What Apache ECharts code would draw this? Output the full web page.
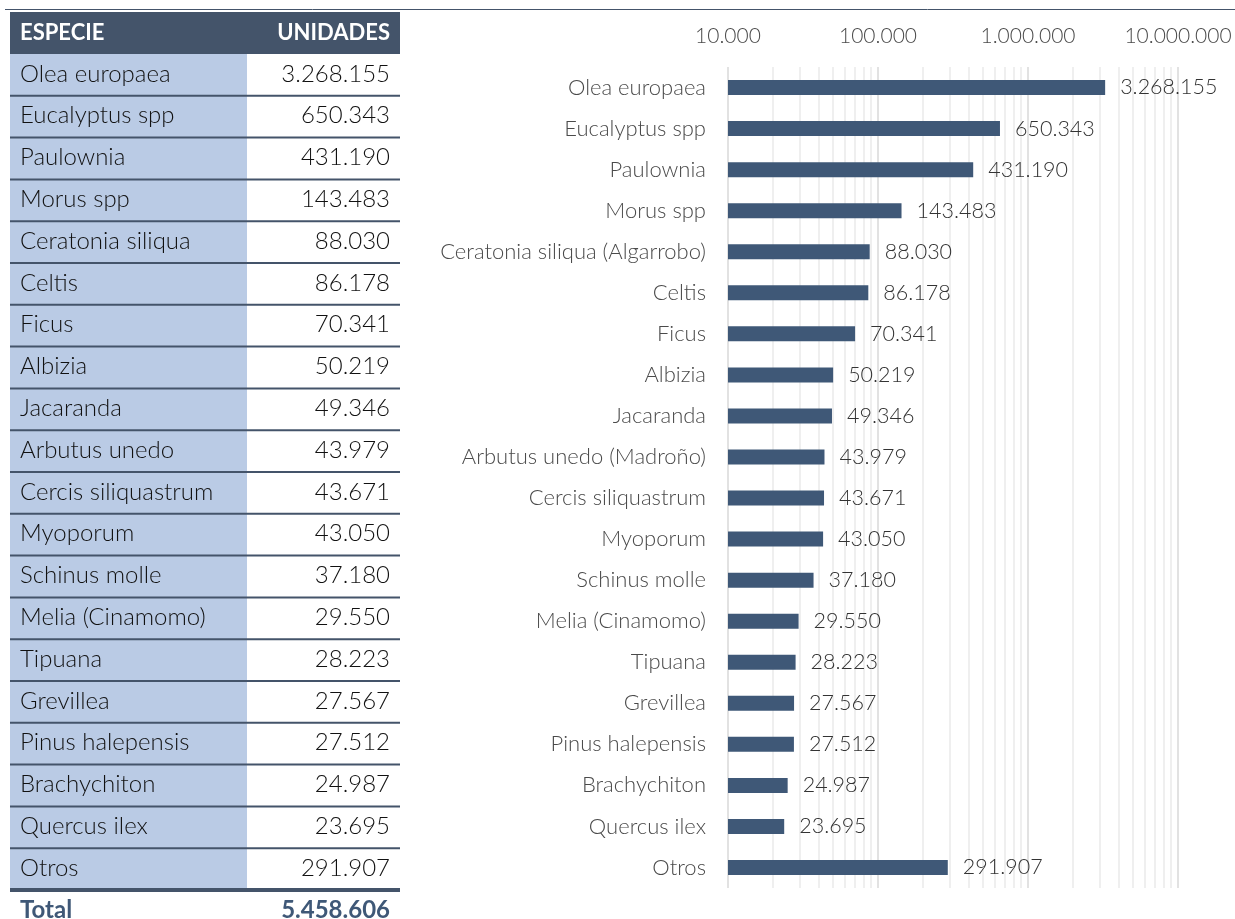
<!DOCTYPE html>
<html>
<head>
<meta charset="utf-8">
<script src="https://cdn.jsdelivr.net/npm/echarts@6/dist/echarts.min.js"></script>
<style>
  html, body { margin: 0; padding: 0; background: #fff; }
  #main { width: 1235px; height: 919px; }
</style>
</head>
<body>
<div id="main"></div>
<script>
// datos de la tabla y del gráfico
var tableNames = ['Olea europaea', 'Eucalyptus spp', 'Paulownia', 'Morus spp', 'Ceratonia siliqua',
  'Celtis', 'Ficus', 'Albizia', 'Jacaranda', 'Arbutus unedo', 'Cercis siliquastrum', 'Myoporum',
  'Schinus molle', 'Melia (Cinamomo)', 'Tipuana', 'Grevillea', 'Pinus halepensis', 'Brachychiton',
  'Quercus ilex', 'Otros'];
var chartNames = ['Olea europaea', 'Eucalyptus spp', 'Paulownia', 'Morus spp', 'Ceratonia siliqua (Algarrobo)',
  'Celtis', 'Ficus', 'Albizia', 'Jacaranda', 'Arbutus unedo (Madroño)', 'Cercis siliquastrum', 'Myoporum',
  'Schinus molle', 'Melia (Cinamomo)', 'Tipuana', 'Grevillea', 'Pinus halepensis', 'Brachychiton',
  'Quercus ilex', 'Otros'];
var unidades = [3268155, 650343, 431190, 143483, 88030, 86178, 70341, 50219, 49346, 43979,
  43671, 43050, 37180, 29550, 28223, 27567, 27512, 24987, 23695, 291907];
var total = 5458606;
var minorTicks = [20000, 30000, 40000, 50000, 60000, 70000, 80000, 90000,
  200000, 300000, 400000, 500000, 600000, 700000, 800000, 900000,
  2000000, 3000000, 4000000, 5000000, 6000000, 7000000, 8000000, 9000000];

var azul = '#44546A';
var barra = '#3F5877';
var celeste = '#BACBE5';
var fuente = 'Lato';

function fmt(v) {
  return String(Math.round(v)).replace(/\B(?=(\d{3})+(?!\d))/g, '.');
}

// tabla a la izquierda
var g = [];
var x0 = 10, x1 = 247, x2 = 400, top0 = 12, headH = 42, rowH = 41.8;
g.push({ type: 'line', shape: { x1: 5, y1: 9.5, x2: 1235, y2: 9.5 }, style: { stroke: azul, lineWidth: 1 } });
g.push({ type: 'rect', shape: { x: x0, y: top0, width: x2 - x0, height: headH }, style: { fill: azul } });
g.push({ type: 'text', x: 20, y: top0 + headH / 2, style: { text: 'ESPECIE', fill: '#fff', font: 'bold 22px ' + fuente, verticalAlign: 'middle' } });
g.push({ type: 'text', x: 390, y: top0 + headH / 2, style: { text: 'UNIDADES', fill: '#fff', font: 'bold 22px ' + fuente, align: 'right', verticalAlign: 'middle' } });
var y0 = top0 + headH;
g.push({ type: 'rect', shape: { x: x0, y: y0, width: x1 - x0, height: rowH * tableNames.length }, style: { fill: celeste } });
tableNames.forEach(function (n, i) {
  var yc = y0 + rowH * i + rowH / 2 - 1;
  g.push({ type: 'text', x: 20, y: yc, style: { text: n, fill: '#111', font: '300 24px ' + fuente, verticalAlign: 'middle' } });
  g.push({ type: 'text', x: 390, y: yc, style: { text: fmt(unidades[i]), fill: '#111', font: '300 24px ' + fuente, align: 'right', verticalAlign: 'middle' } });
  var yl = y0 + rowH * (i + 1);
  if (i < tableNames.length - 1) {
    g.push({ type: 'line', shape: { x1: x0, y1: yl, x2: x2, y2: yl }, style: { stroke: azul, lineWidth: 2 } });
  } else {
    g.push({ type: 'line', shape: { x1: x0, y1: yl, x2: x2, y2: yl }, style: { stroke: azul, lineWidth: 4 } });
  }
});
var yt = y0 + rowH * tableNames.length + 20;
g.push({ type: 'text', x: 20, y: yt, style: { text: 'Total', fill: barra, font: 'bold 24px ' + fuente, verticalAlign: 'middle' } });
g.push({ type: 'text', x: 390, y: yt, style: { text: fmt(total), fill: barra, font: 'bold 24px ' + fuente, align: 'right', verticalAlign: 'middle' } });

var myChart = echarts.init(document.getElementById('main'));
var option = {
  animation: false,
  textStyle: { fontFamily: fuente },
  graphic: g,
  grid: { left: 728, right: 57, top: 67, bottom: 31, containLabel: false },
  xAxis: {
    type: 'log',
    position: 'top',
    min: 10000,
    max: 10000000,
    logBase: 10,
    axisLine: { show: false },
    axisTick: { show: false },
    axisLabel: { color: '#4A4A4A', fontSize: 21, fontWeight: 300, margin: 20, formatter: fmt },
    splitLine: { show: true, lineStyle: { color: '#D9D9D9', width: 1.5 } }
  },
  yAxis: {
    type: 'category',
    inverse: true,
    data: chartNames,
    axisLine: { show: false },
    axisTick: { show: false },
    axisLabel: { color: '#4A4A4A', fontSize: 22, fontWeight: 300, margin: 22 }
  },
  series: [{
    type: 'bar',
    data: unidades,
    barWidth: 15,
    itemStyle: { color: barra },
    label: { show: true, position: 'right', distance: 15, color: '#333', fontSize: 21.5, fontWeight: 300, formatter: function (p) { return fmt(p.value); } },
    markLine: {
      silent: true,
      symbol: 'none',
      label: { show: false },
      lineStyle: { color: '#EAEAEA', width: 1.5, type: 'solid' },
      z: 0,
      data: minorTicks.map(function (v) { return { xAxis: v }; })
    }
  }]
};
myChart.setOption(option);
</script>
</body>
</html>
